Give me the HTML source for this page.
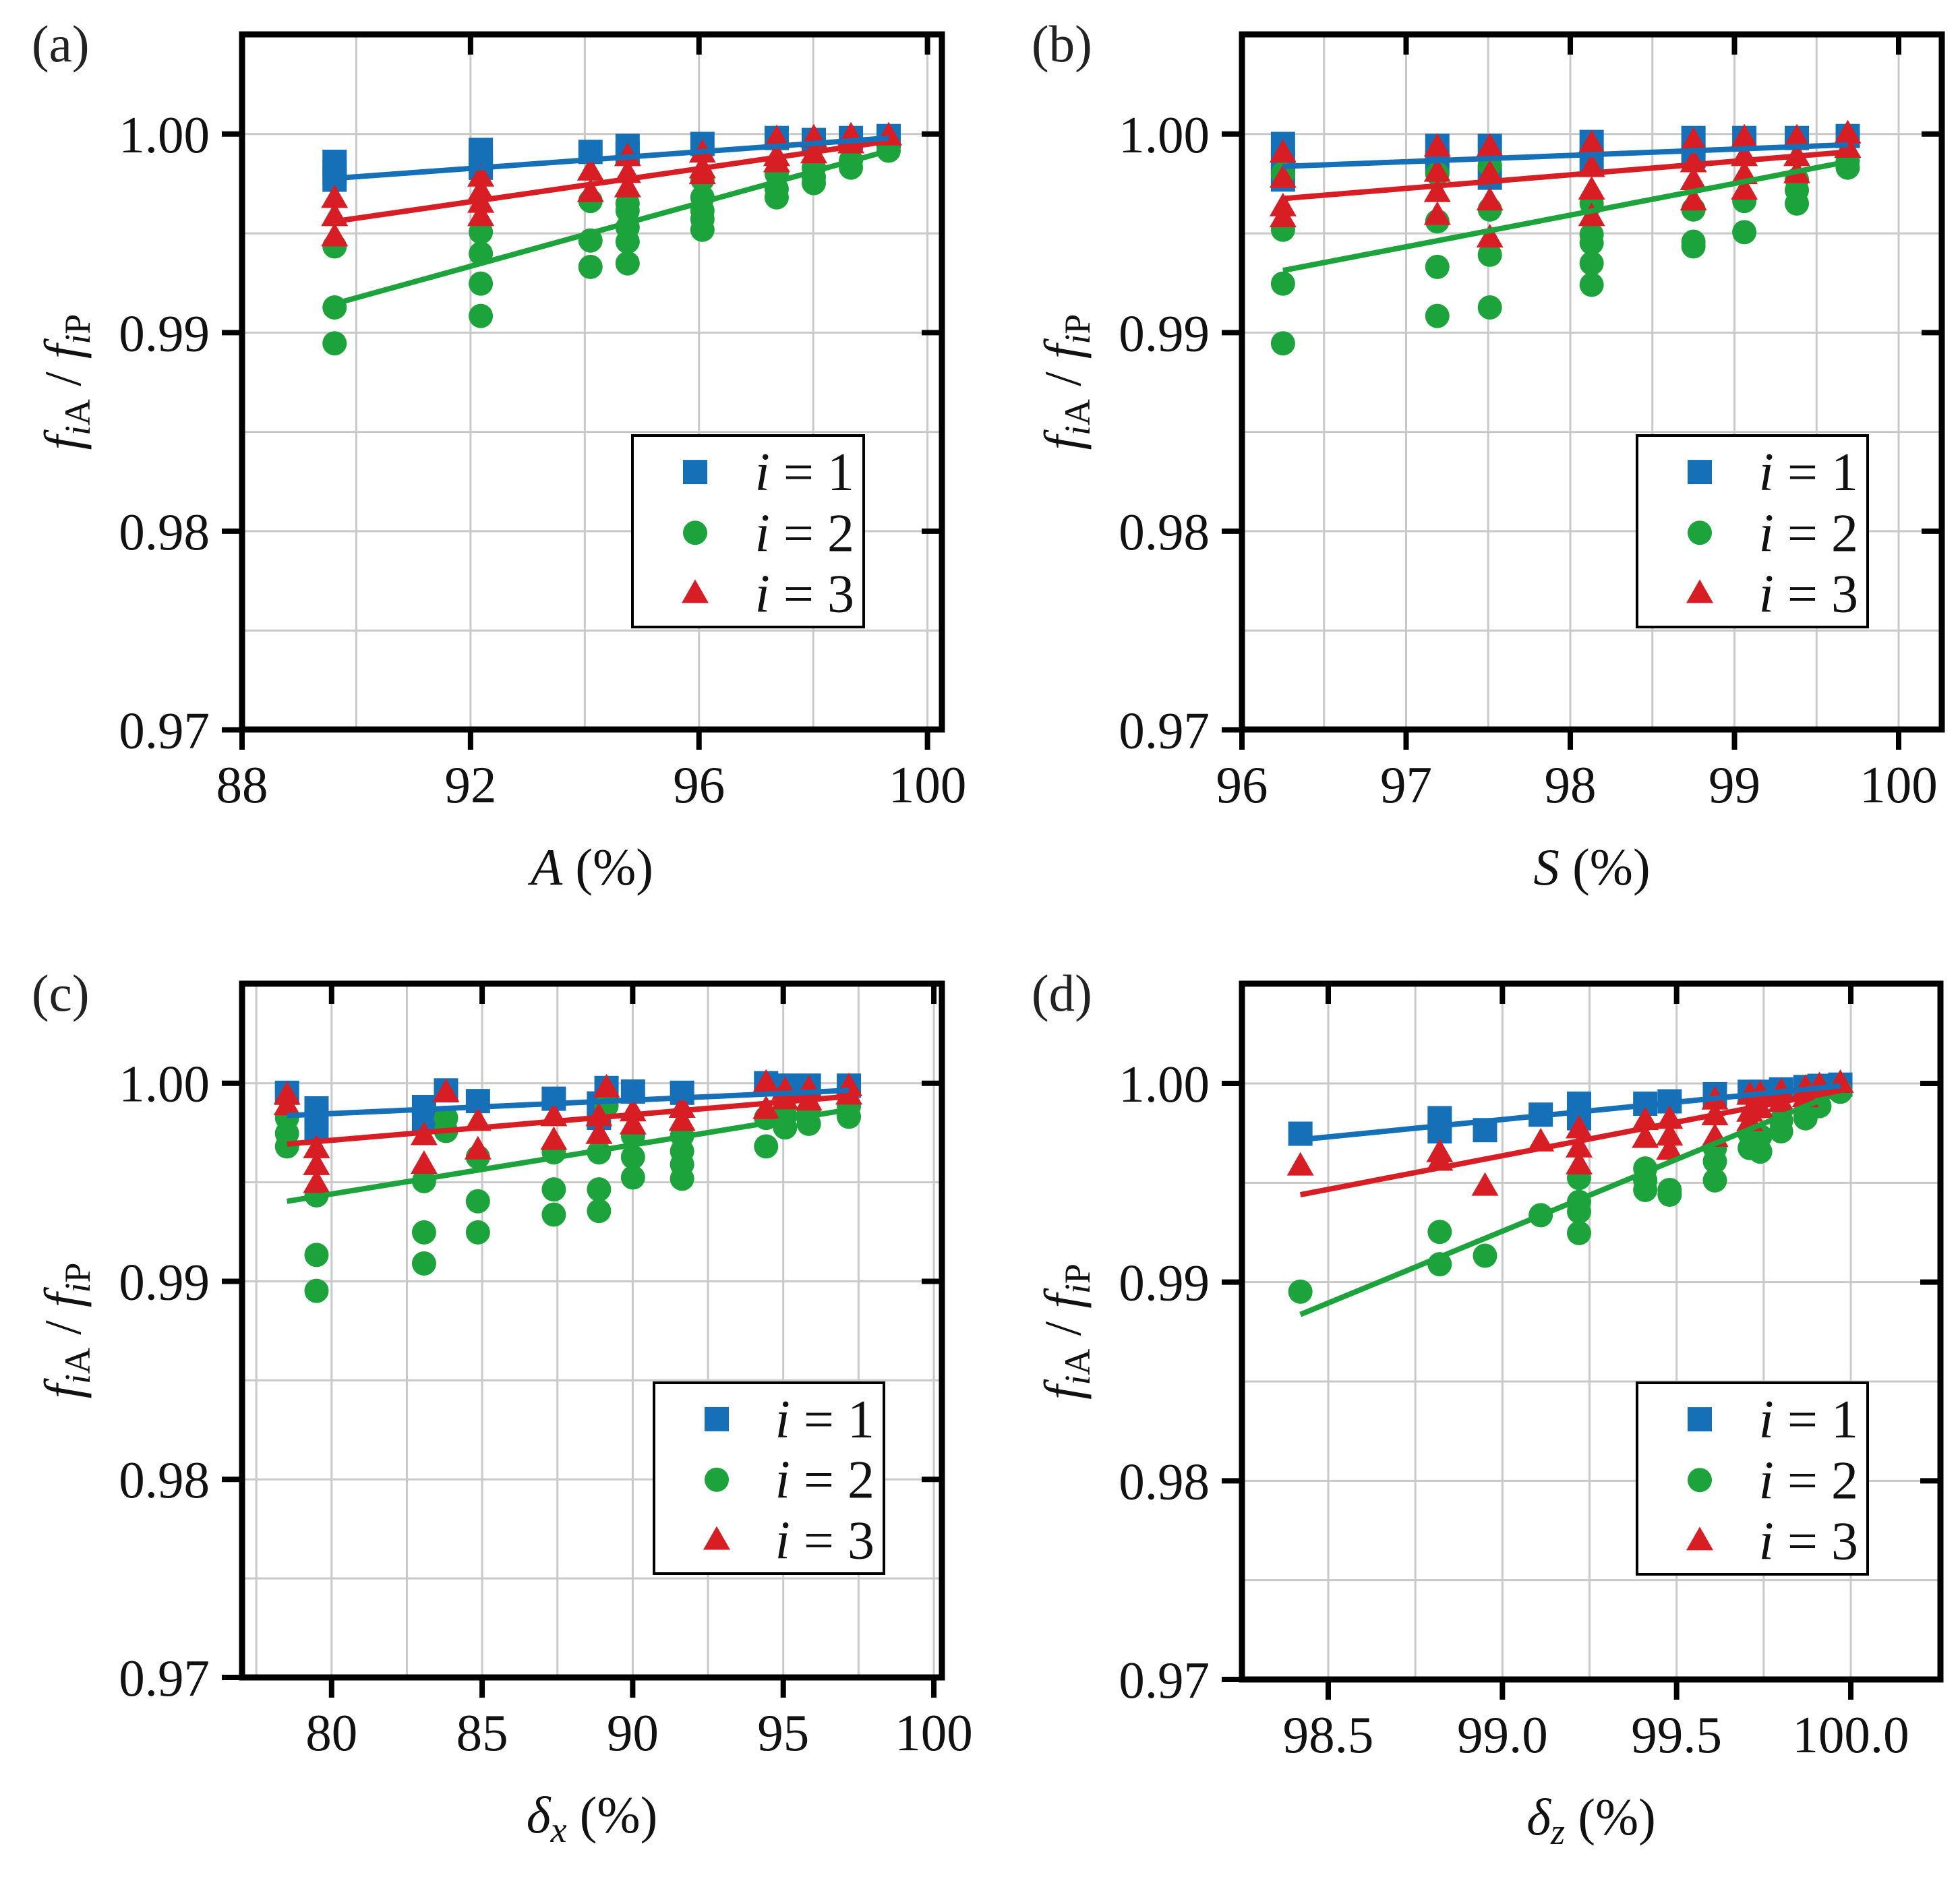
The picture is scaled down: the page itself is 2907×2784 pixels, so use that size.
<!DOCTYPE html>
<html><head><meta charset="utf-8">
<style>
html,body{margin:0;padding:0;background:#fff;}
svg{display:block;font-family:"Liberation Serif",serif;}
</style></head>
<body>
<svg id="fig" width="2907" height="2784" viewBox="0 0 2907 2784" xmlns="http://www.w3.org/2000/svg"></svg>
<script>
// ---------- Panel (a): A (%) ----------
const aX = [89.62, 92.18, 94.1, 94.75, 96.06, 97.36, 98.01, 98.66, 99.32];
const aBlue = [[0.9986,0.9981,0.9977],[0.9992,0.9988,0.9983],[0.9991],[0.9994,0.9990],[0.9995],[0.9998],[0.9997],[0.9998],[0.9999]];
const aRed = [[0.99675,0.99584,0.99482],[0.99783,0.99711,0.99651,0.99584],[0.99813,0.99705],[0.99886,0.99801,0.99729],[0.99904,0.99825,0.99795],[0.99976,0.99886,0.99855],[0.9998,0.9990],[0.9999,0.9995],[0.9999]];
const aGreen = [[0.99434,0.99127,0.98946],[0.99506,0.99398,0.99247,0.99084],[0.99663,0.99464,0.99331],[0.9965,0.99614,0.9953,0.99458,0.99349],[0.99771,0.99681,0.99614,0.99572,0.99518],[0.998,0.99723,0.99681],[0.99831,0.99783,0.99753],[0.99867,0.99831],[0.99916]];
const aFitX = [89.62, 99.32];
const aFitBlue = [0.99777, 0.9998];
const aFitRed = [0.9956, 0.99964];
const aFitGreen = [0.99145, 0.99916];
const aXTicks = ["88","92","96","100"];

// ---------- Panel (b): S (%) ----------
const bX = [96.25, 97.19, 97.51, 98.13, 98.75, 99.06, 99.38, 99.69];
const bBlue = [[0.9995,0.99855,0.99771],[0.9994,0.9986],[0.9994,0.9978],[0.9996,0.9987],[0.9998,0.9989],[0.9998],[0.9998],[0.9999]];
const bRed = [[0.99904,0.99777,0.99633,0.99578],[0.99934,0.99807,0.99705,0.9959],[0.99934,0.998,0.99663,0.99476],[0.9995,0.99831,0.99717,0.99584],[0.99964,0.99855,0.99765,0.99663],[0.9998,0.99886,0.99795,0.99717],[0.9998,0.99886,0.998],[1.0,0.99928]];
const bGreen = [[0.998,0.99518,0.99247,0.98946],[0.998,0.9956,0.99331,0.99084],[0.99843,0.9962,0.99392,0.99127],[0.9965,0.99494,0.99452,0.99349,0.99241],[0.9962,0.99458,0.99434],[0.99663,0.99506],[0.99771,0.99717,0.9965],[0.99867,0.99831]];
const bFitX = [96.25, 99.69];
const bFitBlue = [0.99837, 0.99946];
const bFitRed = [0.99675, 0.9991];
const bFitGreen = [0.99313, 0.99861];
const bXTicks = ["96","97","98","99","100"];

// ---------- Panel (c): delta_x (%) ----------
const cX = [78.52, 79.5, 83.07, 83.8, 84.86, 87.38, 88.88, 89.13, 90.01, 91.64, 94.43, 95.06, 95.85, 97.18];
const cBlue = [[0.99952],[0.99873,0.99825,0.99759],[0.9988,0.99819],[0.99964],[0.9991],[0.99922],[0.99898,0.99825],[0.99976],[0.99958],[0.99952],[1.0],[0.99988],[0.99988],[0.99988]];
const cRed = [[0.9994,0.99886],[0.99669,0.99584,0.99494],[0.99735,0.9959],[0.99952],[0.99807,0.99663],[0.99831,0.99711],[0.99831,0.99741],[0.99976],[0.99855,0.99789],[0.99873,0.99807],[1.0,0.99867],[0.99964,0.99916],[0.9997,0.9991],[0.99982,0.9994]];
const cGreen = [[0.99825,0.99747,0.99681],[0.99434,0.99133,0.98952],[0.99506,0.99247,0.9909],[0.99825,0.99759],[0.99627,0.99404,0.99247],[0.99651,0.99464,0.99337],[0.99651,0.99464,0.99355],[0.99886],[0.99735,0.99627,0.99524],[0.99735,0.99657,0.9959,0.99518],[0.99825,0.99681],[0.99837,0.99777],[0.99855,0.99795],[0.99886,0.99831]];
const cFitX = [78.52, 97.18];
const cFitBlue = [0.99837, 0.99964];
const cFitRed = [0.99693, 0.99934];
const cFitGreen = [0.99404, 0.99867];
const cXTicks = ["80","85","90","95","100"];

// ---------- Panel (d): delta_z (%) ----------
const dX = [98.42, 98.82, 98.95, 99.11, 99.22, 99.41, 99.48, 99.61, 99.71, 99.74, 99.8, 99.87, 99.91, 99.97];
const dBlue = [[0.99747],[0.99825,0.99759],[0.99765],[0.99843],[0.99898,0.99825],[0.99898],[0.9991],[0.99946],[0.99958],[0.99958],[0.9997],[0.99982],[0.99988],[0.99994]];
const dRed = [[0.99584],[0.99651,0.99608],[0.99482],[0.99705],[0.99771,0.99675,0.9959],[0.99813,0.99723],[0.99819,0.99735,0.99663],[0.99916,0.99837,0.99729],[0.9994,0.99855,0.99807],[0.99946,0.99873],[0.99958,0.99904],[0.99976,0.99928],[0.99988],[1.0]];
const dGreen = [[0.98952],[0.99253,0.9909],[0.99133],[0.99337],[0.99524,0.99404,0.99355,0.99247],[0.99572,0.99512,0.99464],[0.99464,0.9944],[0.99675,0.99608,0.99512],[0.99747,0.99675],[0.99735,0.99657],[0.99813,0.99759],[0.99855,0.99825],[0.99886],[0.99958]];
const dFitX = [98.42, 99.97];
const dFitBlue = [0.99717, 0.99988];
const dFitRed = [0.9944, 0.99964];
const dFitGreen = [0.98837, 0.99958];
const dXTicks = ["98.5","99.0","99.5","100.0"];

const yTicks = ["0.97","0.98","0.99","1.00"];
const legendLabels = ["1","2","3"];

const NS = "http://www.w3.org/2000/svg";
const svg = document.getElementById("fig");
const BLUE = "#1570b8", GREEN = "#1da33c", RED = "#d81e25", GRID = "#c9c9c9";
const FS = 77;

function el(tag, attrs, parent) {
  const e = document.createElementNS(NS, tag);
  for (const k in attrs) e.setAttribute(k, attrs[k]);
  (parent || svg).appendChild(e);
  return e;
}

function marker(g, kind, cx, cy, color) {
  let m;
  if (kind === "sq") {
    m = el("rect", {x: cx - 18, y: cy - 18, width: 36, height: 36, fill: color}, g);
  } else if (kind === "ci") {
    m = el("circle", {cx: cx, cy: cy, r: 18, fill: color}, g);
  } else {
    m = el("polygon", {points: `${cx},${cy - 21} ${cx + 20},${cy + 14} ${cx - 20},${cy + 14}`, fill: color}, g);
  }
  return m;
}

function panel(cfg) {
  const g = el("g", {});
  
  
  const {L, R, T, B} = cfg;
  const sx = v => cfg.x0p + (v - cfg.x0) * (cfg.x1p - cfg.x0p) / (cfg.x1 - cfg.x0);
  const sy = v => cfg.y1p + (1.0 - v) * (cfg.y0p - cfg.y1p) / 0.03;

  const gg = el("g", {}, g);
  
  
  for (let v = cfg.gridStart; sx(v) < R - 4; v += cfg.gridStep) {
    const x = sx(v);
    if (x > L + 4) el("line", {x1: x, y1: T, x2: x, y2: B, stroke: GRID, "stroke-width": 3}, gg);
  }
  for (let k = 0; k <= 7; k++) {
    const y = sy(0.97 + k * 0.005);
    if (y > T + 4 && y < B - 4) el("line", {x1: L, y1: y, x2: R, y2: y, stroke: GRID, "stroke-width": 3}, gg);
  }

  const fits = [[cfg.fitGreen, GREEN, "green"], [cfg.fitRed, RED, "red"], [cfg.fitBlue, BLUE, "blue"]];
  const series = [[cfg.blue, "sq", BLUE, "blue"], [cfg.green, "ci", GREEN, "green"], [cfg.red, "tr", RED, "red"]];
  series.forEach(([data, kind, color, nm]) => {
    const sg = el("g", {}, g);
    
    
    data.forEach((ys, i) => ys.forEach(v => {
      const m = marker(sg, kind, sx(cfg.xs[i]), sy(v), color);
      
      
    }));
  });
  fits.forEach(([fy, color, nm]) => {
    const ln = el("line", {x1: sx(cfg.fitX[0]), y1: sy(fy[0]), x2: sx(cfg.fitX[1]), y2: sy(fy[1]), stroke: color, "stroke-width": 8}, g);
    
    
  });

  const fr = el("rect", {x: L, y: T, width: R - L, height: B - T, fill: "none", stroke: "#000", "stroke-width": 9}, g);
  
  

  yTicks.forEach(t => {
    const y = sy(parseFloat(t));
    el("line", {x1: L - 30, y1: y, x2: L, y2: y, stroke: "#000", "stroke-width": 8}, g);
    el("line", {x1: R - 30, y1: y, x2: R, y2: y, stroke: "#000", "stroke-width": 8}, g);
    const tx = el("text", {x: L - 48, y: y + 27, "font-size": FS, "text-anchor": "end", fill: "#111"}, g);
    tx.textContent = t;
    
    
  });
  cfg.xTicks.forEach(t => {
    const x = sx(parseFloat(t));
    el("line", {x1: x, y1: B, x2: x, y2: B + 30, stroke: "#000", "stroke-width": 8}, g);
    el("line", {x1: x, y1: T, x2: x, y2: T + 30, stroke: "#000", "stroke-width": 8}, g);
    const tx = el("text", {x: x, y: B + 108, "font-size": FS, "text-anchor": "middle", fill: "#111"}, g);
    tx.textContent = t;
    
    
  });

  const xt = el("text", {x: (L + R) / 2, y: B + 230, "font-size": FS, "text-anchor": "middle", fill: "#111"}, g);
  
  
  xt.innerHTML = cfg.xTitle;

  const ytx = L - 240, yty = (T + B) / 2;
  const yt = el("text", {x: ytx, y: yty, "font-size": FS, "text-anchor": "middle", fill: "#111", transform: `rotate(-90 ${ytx} ${yty})`}, g);
  
  
  yt.innerHTML = '<tspan font-style="italic">f</tspan><tspan font-size="54" dy="14"><tspan font-style="italic">i</tspan>A</tspan><tspan dy="-14"> / </tspan><tspan font-style="italic">f</tspan><tspan font-size="54" dy="14"><tspan font-style="italic">i</tspan>P</tspan>';

  const pl = el("text", {x: L - 312, y: T + 40, "font-size": FS, fill: "#222"}, g);
  pl.textContent = cfg.label;
  
  

  const lg = el("g", {}, g);
  
  
  const [lx1, ly1, lx2, ly2] = cfg.legend;
  el("rect", {x: lx1, y: ly1, width: lx2 - lx1, height: ly2 - ly1, fill: "#fff", stroke: "#000", "stroke-width": 4}, lg);
  const kinds = [["sq", BLUE], ["ci", GREEN], ["tr", RED]];
  const rowH = (ly2 - ly1) / 3.15;
  legendLabels.forEach((lab, k) => {
    const cy = ly1 + rowH * (k + 0.6);
    const it = el("g", {}, lg);
    
    
    marker(it, kinds[k][0], lx1 + 93, cy, kinds[k][1]);
    const t = el("text", {x: lx2 - 14, y: cy + 27, "font-size": 80, "text-anchor": "end", fill: "#111"}, it);
    t.innerHTML = '<tspan font-style="italic">i</tspan> = ' + lab;
  });
}

panel({name: "panel-a", label: "(a)", L: 359, R: 1397, T: 51, B: 1082,
  x0: 88, x1: 100, x0p: 359, x1p: 1375.6, y0p: 1082.5, y1p: 198.8,
  gridStart: 90, gridStep: 2, xTicks: aXTicks, xs: aX, blue: aBlue, red: aRed, green: aGreen,
  fitX: aFitX, fitBlue: aFitBlue, fitRed: aFitRed, fitGreen: aFitGreen,
  xTitle: '<tspan font-style="italic">A</tspan> (%)', legend: [938, 646, 1281, 930]});

panel({name: "panel-b", label: "(b)", L: 1842, R: 2880, T: 51, B: 1082,
  x0: 96, x1: 100, x0p: 1842, x1p: 2816, y0p: 1082.5, y1p: 198.8,
  gridStart: 96.5, gridStep: 0.5, xTicks: bXTicks, xs: bX, blue: bBlue, red: bRed, green: bGreen,
  fitX: bFitX, fitBlue: bFitBlue, fitRed: bFitRed, fitGreen: bFitGreen,
  xTitle: '<tspan font-style="italic">S</tspan> (%)', legend: [2428, 646, 2770, 930]});

panel({name: "panel-c", label: "(c)", L: 359, R: 1397, T: 1459, B: 2488,
  x0: 80, x1: 100, x0p: 491.8, x1p: 1385, y0p: 2488, y1p: 1606.7,
  gridStart: 77.5, gridStep: 2.5, xTicks: cXTicks, xs: cX, blue: cBlue, red: cRed, green: cGreen,
  fitX: cFitX, fitBlue: cFitBlue, fitRed: cFitRed, fitGreen: cFitGreen,
  xTitle: '<tspan font-style="italic">δ</tspan><tspan font-style="italic" font-size="54" dy="14">x</tspan><tspan dy="-14">  (%)</tspan>', legend: [970, 2051, 1311, 2334]});

panel({name: "panel-d", label: "(d)", L: 1842, R: 2878, T: 1459, B: 2491,
  x0: 98.5, x1: 100, x0p: 1970, x1p: 2745, y0p: 2491, y1p: 1607,
  gridStart: 98.5, gridStep: 0.25, xTicks: dXTicks, xs: dX, blue: dBlue, red: dRed, green: dGreen,
  fitX: dFitX, fitBlue: dFitBlue, fitRed: dFitRed, fitGreen: dFitGreen,
  xTitle: '<tspan font-style="italic">δ</tspan><tspan font-style="italic" font-size="54" dy="14">z</tspan><tspan dy="-14">  (%)</tspan>', legend: [2428, 2051, 2770, 2335]});
</script>
</body></html>
